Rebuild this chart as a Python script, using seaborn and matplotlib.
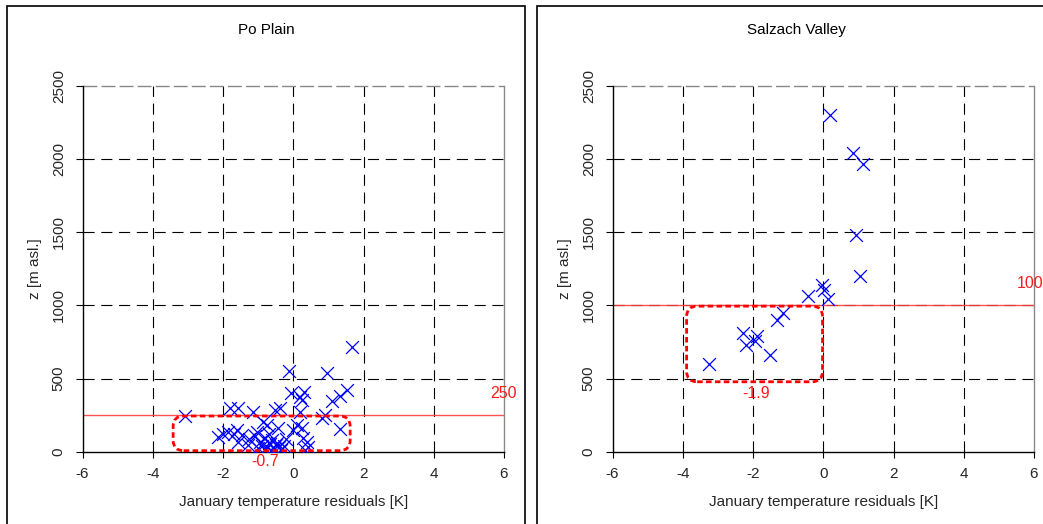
import numpy as np
import pandas as pd
import matplotlib
matplotlib.use("Agg")
import matplotlib.pyplot as plt
import seaborn as sns
from matplotlib.patches import FancyBboxPatch, Rectangle

# ---------------- data ----------------
po_x = [1.66, -0.12, 0.95, 1.52, 1.33, 1.10, 0.30, -0.05, 0.19, 0.24,
        -0.38, -0.52, -1.80, -1.57, -1.14, -3.09, 0.19, 0.90, 0.81, 1.33,
        0.10, 0.24, 0.00, -0.43, -0.76, -0.85, -2.14, -1.85, -1.61, -1.47,
        -1.57, -1.70, -1.04, -1.10, -0.95, -0.80, -0.70, -0.60, -0.90, -0.75,
        -0.65, -0.55, -0.45, -0.40, -0.80, -0.60, -0.35, -0.50, -0.70, -1.25,
        -1.30, -0.20, 0.38, 0.43, 0.28, 0.33, -0.25, -1.00, -2.00]
po_z = [713, 555, 537, 419, 380, 345, 408, 399, 376, 353,
        300, 288, 296, 296, 268, 245, 273, 251, 230, 155,
        182, 160, 148, 160, 182, 205, 100, 137, 145, 114,
        68, 120, 137, 110, 68, 95, 120, 80, 40, 30,
        50, 20, 60, 35, 10, 5, 10, 45, 60, 90,
        45, 90, 68, 30, 91, 10, 40, 25, 120]

sa_x = [0.19, 0.86, 1.14, 0.92, 1.04, -0.04, 0.02, 0.14, -0.44, -1.14,
        -1.32, -2.29, -1.89, -1.94, -2.20, -1.51, -3.24]
sa_z = [2302, 2040, 1967, 1482, 1202, 1140, 1107, 1043, 1065, 951,
        897, 811, 788, 760, 731, 663, 601]

titles = ["Po Plain", "Salzach Valley"]
thresholds = [250, 1000]
threshold_labels = ["250", "1000"]
box_x = [(-3.42, 1.62), (-3.89, -0.02)]
box_z = [(7, 244), (478, 995)]
box_means = ["-0.7", "-1.9"]
mean_pos = [(-0.8, -70), (-1.92, 400)]

xticks = [-6, -4, -2, 0, 2, 4, 6]
yticks = [0, 500, 1000, 1500, 2000, 2500]
xlabel = "January temperature residuals [K]"
ylabel = "z [m asl.]"

# ---------------- style ----------------
sns.set_theme(style="white")
plt.rcParams["font.family"] = ["Liberation Sans", "DejaVu Sans"]
FS = 11

W, H = 1043, 524
fig = plt.figure(figsize=(W / 100, H / 100), dpi=100)

# panel frames (figure pixels)
frame_x = [7, 537]
for j, fx in enumerate(frame_x):
    fig.add_artist(Rectangle((fx / W, -0.1), 518 / W, (518 / H) + 0.1,
                             transform=fig.transFigure, fill=False,
                             edgecolor="black", linewidth=1.2))
    fig.text((fx + 259) / W, 1 - 30 / H, titles[j],
             ha="center", va="center", fontsize=FS, color="black")

axes_left = [82.5, 612.5]
datasets = [(po_x, po_z), (sa_x, sa_z)]

for i, axl in enumerate(axes_left):
    ax = fig.add_axes([axl / W, (H - 451.7) / H, 421.5 / W, 365.7 / H])
    xs, zs = datasets[i]
    df = pd.DataFrame({"x": xs, "z": zs})
    ax.set_xlim(-6, 6)
    ax.set_ylim(0, 2500)

    # grid
    for gx in xticks[1:-1]:
        ax.axvline(gx, color="black", lw=0.8, dashes=(10, 6), zorder=1)
    for gy in yticks[1:-1]:
        ax.axhline(gy, color="black", lw=0.8, dashes=(10, 6), zorder=1)
    ax.axhline(2500, color="#888888", lw=1.0, dashes=(10, 3), zorder=1, clip_on=False)

    # threshold line and label
    ax.axhline(thresholds[i], color="#ff4040", lw=1.0, alpha=0.9, zorder=2)
    ax.text(6.0, thresholds[i] + 150, threshold_labels[i], color="#ff1a1a",
            ha="center", va="center", fontsize=FS + 0.5, clip_on=False)

    sns.scatterplot(data=df, x="x", y="z", ax=ax, marker="x", color="#0000ff",
                    s=85, linewidth=0.9, zorder=4, legend=False)

    # rounded dashed box
    aspect = (2500 / 365.7) / (12 / 421.5)
    bx0, bx1 = box_x[i]
    bz0, bz1 = box_z[i]
    box = FancyBboxPatch((bx0, bz0), bx1 - bx0, bz1 - bz0,
                         boxstyle="round,pad=0,rounding_size=0.3",
                         mutation_aspect=aspect, fill=False,
                         edgecolor="#ff0000", linewidth=2.0,
                         linestyle=(0, (2.0, 1.2)), zorder=5, clip_on=False)
    ax.add_patch(box)
    ax.text(mean_pos[i][0], mean_pos[i][1], box_means[i], color="#ff1a1a",
            ha="center", va="center", fontsize=FS + 0.5, clip_on=False, zorder=6)

    # spines
    ax.spines["top"].set_visible(False)
    ax.spines["right"].set_color("#888888")
    ax.spines["right"].set_linewidth(1.0)
    for s in ["left", "bottom"]:
        ax.spines[s].set_color("black")
        ax.spines[s].set_linewidth(1.0)

    ax.set_xticks(xticks)
    ax.set_yticks(yticks)
    ax.set_xticklabels([str(t) for t in xticks], fontsize=FS)
    ax.set_yticklabels([str(t) for t in yticks], fontsize=FS, rotation=90, va="center")
    ax.tick_params(axis="both", direction="out", length=4, width=0.8,
                   color="black", pad=7, bottom=True, left=True)
    ax.tick_params(axis="y", length=5, pad=7)
    ax.set_xlabel(xlabel, fontsize=FS, labelpad=10)
    ax.set_ylabel(ylabel, fontsize=FS, labelpad=7)
    ax.grid(False)
    ax.set_facecolor("white")

fig.savefig("out.png", dpi=100)
